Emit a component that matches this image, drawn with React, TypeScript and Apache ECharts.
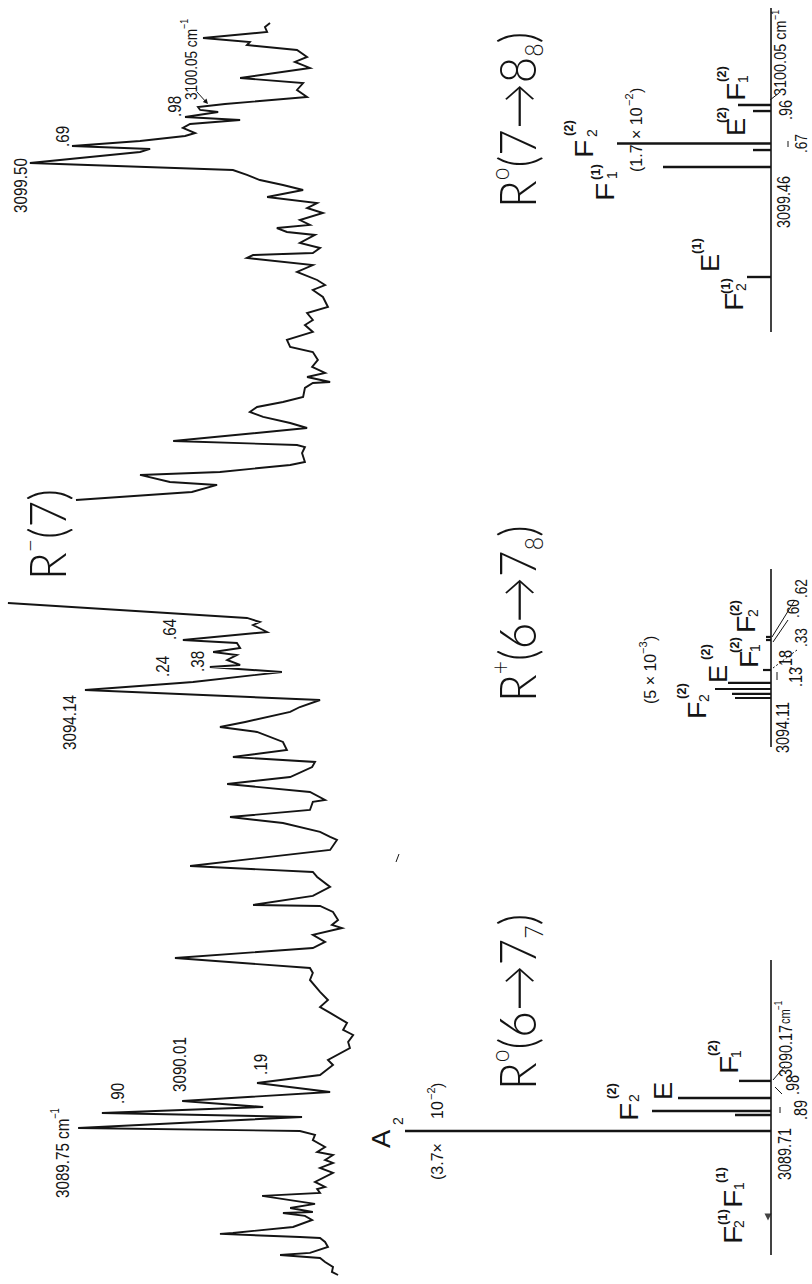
import React, { useEffect, useRef } from "react";
import * as echarts from "echarts";

// ---------- DATA ----------
// Recorded spectrum, wavenumber (cm-1) and absorbance (arbitrary units)
const traceLowWn = [
  3088.265, 3088.296, 3088.346, 3088.397, 3088.437, 3088.467, 3088.488, 3088.548, 3088.599, 3088.639,
  3088.649, 3088.68, 3088.69, 3088.75, 3088.821, 3088.862, 3088.892, 3088.902, 3088.942, 3088.983,
  3089.064, 3089.094, 3089.134, 3089.155, 3089.205, 3089.296, 3089.347, 3089.397, 3089.427, 3089.478,
  3089.508, 3089.559, 3089.629, 3089.68, 3089.72, 3089.751, 3089.862, 3089.902, 3089.963, 3090.023,
  3090.114, 3090.205, 3090.286, 3090.387, 3090.438, 3090.559, 3090.62, 3090.69, 3090.741, 3090.812,
  3090.913, 3090.973, 3091.044, 3091.125, 3091.246, 3091.317, 3091.367, 3091.468, 3091.569, 3091.63,
  3091.701, 3091.771, 3091.802, 3091.852, 3091.933, 3091.994, 3092.004, 3092.095, 3092.186, 3092.287,
  3092.337, 3092.398, 3092.56, 3092.661, 3092.691, 3092.742, 3092.832, 3092.893, 3092.964, 3093.045,
  3093.065, 3093.146, 3093.226, 3093.297, 3093.398, 3093.449, 3093.499, 3093.57, 3093.651, 3093.752,
  3093.802, 3093.853, 3093.954, 3094.004, 3094.075, 3094.176, 3094.247, 3094.257, 3094.358, 3094.409,
  3094.429, 3094.479, 3094.53, 3094.56, 3094.6, 3094.651, 3094.681, 3094.762, 3094.833, 3094.863,
  3094.904, 3095.055,
];
const traceLowAbs = [
  0.61, 0.78, 0.75, 0.97, 1.11, 2.22, 1.39, 0.89, 0.97, 1.11,
  1.67, 3.89, 3.53, 1.86, 1.33, 1.53, 2.14, 1.31, 1.94, 1.25,
  2.72, 1.11, 1.19, 0.97, 1.25, 0.75, 1.11, 0.75, 0.97, 0.75,
  1.19, 0.97, 1.31, 1.25, 1.67, 7.83, 1.61, 7.17, 2.69, 4.94,
  0.83, 2.86, 1.11, 0.75, 0.89, 0.28, 0.33, 0.19, 0.47, 0.36,
  0.83, 1.11, 0.89, 1.11, 1.39, 1.31, 1.39, 5.14, 1.31, 0.97,
  1.31, 0.5, 0.78, 0.61, 0.75, 1.11, 2.97, 1.31, 0.83, 1.19,
  1.31, 4.72, 0.83, 0.64, 0.83, 1.11, 2.14, 3.61, 1.39, 1.31,
  0.97, 1.39, 3.69, 1.94, 1.33, 1.25, 3.53, 2.03, 2.14, 2.86,
  3.89, 3.19, 1.94, 1.67, 1.11, 7.64, 5.0, 4.64, 2.17, 4.17,
  3.33, 3.69, 3.42, 4.08, 3.33, 3.42, 4.92, 2.58, 2.97, 2.78,
  3.14, 9.78,
];
const traceHighWn = [
  3096.096, 3096.177, 3096.248, 3096.278, 3096.349, 3096.379, 3096.45, 3096.48, 3096.571, 3096.631,
  3096.652, 3096.692, 3096.823, 3096.874, 3096.935, 3096.985, 3097.036, 3097.086, 3097.137, 3097.228,
  3097.278, 3097.288, 3097.339, 3097.379, 3097.44, 3097.511, 3097.591, 3097.642, 3097.713, 3097.794,
  3097.864, 3097.915, 3097.985, 3098.046, 3098.147, 3098.218, 3098.268, 3098.319, 3098.4, 3098.47,
  3098.541, 3098.571, 3098.592, 3098.642, 3098.693, 3098.774, 3098.804, 3098.844, 3098.875, 3098.925,
  3098.996, 3099.046, 3099.097, 3099.158, 3099.228, 3099.279, 3099.329, 3099.38, 3099.43, 3099.501,
  3099.612, 3099.643, 3099.673, 3099.723, 3099.774, 3099.804, 3099.855, 3099.895, 3099.936, 3099.966,
  3100.016, 3100.037, 3100.067, 3100.097, 3100.168, 3100.239, 3100.309, 3100.36, 3100.461, 3100.522,
  3100.572, 3100.643, 3100.693, 3100.724, 3100.764, 3100.825, 3100.875, 3100.916,
];
const traceHighAbs = [
  7.89, 4.67, 3.97, 5.28, 6.11, 3.89, 1.94, 1.53, 1.61, 1.53,
  1.75, 5.19, 1.47, 1.94, 2.69, 3.06, 2.86, 2.14, 1.58, 1.53,
  1.31, 0.83, 1.47, 0.97, 1.33, 1.17, 1.31, 1.94, 2.03, 1.31,
  1.53, 1.31, 1.47, 0.89, 1.03, 1.31, 0.97, 1.19, 1.75, 1.31,
  3.14, 2.97, 1.31, 1.11, 1.67, 1.25, 2.03, 2.31, 1.39, 1.67,
  1.03, 1.47, 1.19, 2.58, 1.58, 2.14, 2.78, 3.14, 3.53, 9.17,
  6.11, 5.83, 8.0, 6.11, 4.86, 4.58, 4.92, 4.72, 3.33, 4.86,
  3.94, 4.44, 4.5, 3.75, 1.47, 1.75, 1.58, 3.33, 1.39, 1.81,
  1.47, 1.75, 3.14, 3.06, 4.36, 2.58, 2.64, 2.5,
];

// Calculated stick spectra (relative intensity, units of 1e-2)
const r0_67Wn = [3089.72, 3089.882, 3089.922, 3090.054, 3090.226];
const r0_67Int = [3.66, 0.36, 1.19, 0.93, 0.32];
const rp_67Wn = [3094.095, 3094.136, 3094.186, 3094.247, 3094.378, 3094.681, 3094.712];
const rp_67Int = [0.36, 0.39, 0.56, 0.43, 0.08, 0.05, 0.05];
const r0_78Wn = [3098.349, 3099.461, 3099.632, 3099.698, 3100.026, 3100.087];
const r0_78Int = [0.24, 1.08, 0.18, 1.54, 0.18, 0.33];

// Extent of each stick diagram's zero line (cm-1)
const baseR0_67 = [3088.467, 3091.448];
const baseRp_67 = [3093.6, 3095.399];
const baseR0_78 = [3097.793, 3101.067];
const markerWn = [3088.851];

// Axis ranges
const WN_MIN = 3088.174;
const WN_MAX = 3101.148;

// ---------- TEXT ----------
const NUMF = "'Liberation Sans', Arial, sans-serif";
const BIGF = "Lato, 'Open Sans', sans-serif";
const INK = "#141414";

// [x, y, text, fontSize, scaleX, bold]
const labels: [number, number, string, number, number, boolean][] = [
  // spectrum peak labels
  [62, 1198, "3089.75 cm", 19, 0.8, false],
  [55, 1119, "\u22121", 12, 0.8, false],
  [117, 1104, ".90", 19, 0.8, false],
  [179, 1092, "3090.01", 19, 0.8, false],
  [260, 1075, ".19", 19, 0.8, false],
  [69, 750, "3094.14", 19, 0.8, false],
  [162, 677, ".24", 19, 0.8, false],
  [197, 672, ".38", 19, 0.8, false],
  [169, 640, ".64", 19, 0.8, false],
  [20, 213, "3099.50", 19, 0.8, false],
  [62, 147, ".69", 19, 0.8, false],
  [174, 117, ".98", 19, 0.8, false],
  [191, 100, "3100.05 cm", 17, 0.8, false],
  [184, 29, "\u22121", 11, 0.8, false],
  // R0(6->7_7) stick labels
  [784, 1180, "3089.71", 18, 0.8, false],
  [800, 1120, ".89", 18, 0.8, false],
  [792, 1095, ".98", 18, 0.8, false],
  [785, 1077, "3090.17", 18, 0.8, false],
  [786, 1024, "cm", 14, 0.8, false],
  [779, 1010, "\u22121", 10, 0.8, false],
  [381, 1148, "A", 26, 1.05, false],
  [398, 1125, "2", 14, 1, false],
  [437, 1180, "(3.7\u00d7", 16, 1, false],
  [437, 1119, "10", 16, 1, false],
  [431, 1100, "\u22122", 11, 1, false],
  [437, 1088, ")", 16, 1, false],
  [629, 1121, "F", 26, 1.15, false],
  [634, 1102, "2", 14, 1, false],
  [611, 1099, "(2)", 13, 1, true],
  [663, 1100, "E", 26, 1.05, false],
  [729, 1074, "F", 26, 1.15, false],
  [736, 1058, "1", 14, 1, false],
  [712, 1056, "(2)", 13, 1, true],
  [733, 1244, "F", 26, 1.15, false],
  [739, 1228, "2", 14, 1, false],
  [722, 1225, "(1)", 13, 1, true],
  [733, 1208, "F", 26, 1.15, false],
  [739, 1190, "1", 14, 1, false],
  [720, 1183, "(1)", 13, 1, true],
  // R+(6->7_8) stick labels
  [782, 753, "3094.11", 18, 0.8, false],
  [795, 687, ".13", 18, 0.8, false],
  [785, 670, ".18", 18, 0.8, false],
  [801, 647, ".33", 17, 0.8, false],
  [793, 618, ".60", 17, 0.8, false],
  [801, 598, ".62", 17, 0.8, false],
  [650, 704, "(5 \u00d7 10", 16, 1, false],
  [643, 654, "\u22123", 11, 1, false],
  [650, 641, ")", 16, 1, false],
  [697, 719, "F", 26, 1.1, false],
  [704, 702, "2", 14, 1, false],
  [681, 699, "(2)", 13, 1, true],
  [718, 683, "E", 26, 1.05, false],
  [705, 660, "(2)", 13, 1, true],
  [749, 668, "F", 26, 1.1, false],
  [755, 652, "1", 14, 1, false],
  [734, 653, "(2)", 13, 1, true],
  [746, 633, "F", 26, 1.1, false],
  [753, 617, "2", 14, 1, false],
  [734, 616, "(2)", 13, 1, true],
  // R0(7->8_8) stick labels
  [783, 228, "3099.46", 18, 0.8, false],
  [801, 153, ".67", 17, 0.8, false],
  [785, 120, ".96", 18, 0.8, false],
  [780, 96, "3100.05 cm", 17, 0.85, false],
  [775, 20, "\u22121", 11, 0.8, false],
  [605, 201, "F", 26, 1.15, false],
  [612, 179, "1", 14, 1, false],
  [595, 180, "(1)", 13, 1, true],
  [584, 158, "F", 26, 1.15, false],
  [592, 137, "2", 14, 1, false],
  [568, 136, "(2)", 13, 1, true],
  [636, 172, "(1.7", 16, 1, false],
  [636, 139, "\u00d7 10", 16, 1, false],
  [629, 106, "\u22122", 11, 1, false],
  [636, 93, ")", 16, 1, false],
  [736, 136, "E", 26, 1.05, false],
  [721, 123, "(2)", 13, 1, true],
  [736, 101, "F", 26, 1.15, false],
  [743, 83, "1", 14, 1, false],
  [721, 82, "(2)", 13, 1, true],
  [734, 311, "F", 26, 1.15, false],
  [741, 291, "2", 14, 1, false],
  [725, 294, "(1)", 13, 1, true],
  [710, 272, "E", 26, 1.05, false],
  [696, 254, "(1)", 13, 1, true],
];

// [x, y, rich text]
const bigLabels: [number, number, string][] = [
  [46, 580, "{a|R}{p|\u2212}{a|(7)}"],
  [516, 702, "{a|R}{p|+}{a|(6\u21927}{b|8}{a|)}"],
  [516, 1090, "{a|R}{p|o}{a|(6\u21927}{b|7}{a|)}"],
  [516, 208, "{a|R}{p|o}{a|(7\u21928}{b|8}{a|)}"],
];

// leader lines [x1, y1, x2, y2, dashed]
const leaders: number[][] = [
  [780, 1107, 780, 1113, 0],
  [775, 1087, 782, 1094, 0],
  [773, 1080, 785, 1066, 0],
  [777, 672, 777, 680, 0],
  [773, 668, 797, 650, 1],
  [773, 642, 788, 620, 0],
  [772, 637, 795, 600, 0],
  [788, 141, 788, 147, 0],
  [770, 100, 779, 93, 0],
  [399, 854, 396, 862, 0],
  [197, 92, 207, 103, 0],
];

function rotText(x: number, y: number, text: string, size: number, sx: number, bold: boolean) {
  return {
    type: "text",
    x,
    y,
    rotation: Math.PI / 2,
    scaleX: sx,
    silent: true,
    style: {
      text,
      fontSize: size,
      fontFamily: NUMF,
      fontWeight: bold ? "bold" : "normal",
      fill: INK,
      align: "left",
      verticalAlign: "middle",
    },
  };
}

function bigText(x: number, y: number, text: string) {
  const base = { fontFamily: BIGF, fontWeight: 300, fill: INK };
  return {
    type: "text",
    x,
    y,
    rotation: Math.PI / 2,
    scaleX: 0.88,
    silent: true,
    style: {
      text,
      fontFamily: BIGF,
      fontSize: 52,
      fill: INK,
      align: "left",
      verticalAlign: "middle",
      rich: {
        a: { ...base, fontSize: 52, lineHeight: 60 },
        p: { ...base, fontSize: 26, lineHeight: 26, verticalAlign: "top" },
        b: { ...base, fontSize: 26, lineHeight: 26, verticalAlign: "bottom" },
      },
    },
  };
}

function pairs(wn: number[], vals: number[]) {
  return wn.map((w, i) => [vals[i], w]);
}

function stickSeries(wn: number[], inten: number[], width: number) {
  return {
    type: "custom",
    xAxisIndex: 1,
    yAxisIndex: 1,
    coordinateSystem: "cartesian2d",
    silent: true,
    clip: false,
    data: wn.map((w, i) => [w, inten[i]]),
    encode: { x: 1, y: 0 },
    renderItem: (_p: any, api: any) => {
      const w = api.value(0);
      const I = api.value(1);
      const a = api.coord([0, w]);
      const b = api.coord([I, w]);
      return {
        type: "line",
        shape: { x1: a[0], y1: a[1], x2: b[0], y2: b[1] },
        style: { stroke: INK, lineWidth: width },
      };
    },
  };
}

function baseLine(range: number[]) {
  return {
    type: "line",
    xAxisIndex: 1,
    yAxisIndex: 1,
    silent: true,
    showSymbol: false,
    data: [
      [0, range[0]],
      [0, range[1]],
    ],
    lineStyle: { color: INK, width: 1.6 },
  };
}

export default function App() {
  const ref = useRef<HTMLDivElement>(null);
  useEffect(() => {
    if (!ref.current) return;
    const chart = echarts.init(ref.current, null, { renderer: "svg" });
    const graphic: any[] = [];
    labels.forEach(([x, y, t, s, sx, b]) => graphic.push(rotText(x, y, t, s, sx, b)));
    bigLabels.forEach(([x, y, t]) => graphic.push(bigText(x, y, t)));
    leaders.forEach(([x1, y1, x2, y2, d]) =>
      graphic.push({
        type: "line",
        silent: true,
        shape: { x1, y1, x2, y2 },
        style: { stroke: INK, lineWidth: 1, lineDash: d ? [2, 2] : null },
      })
    );
    graphic.push({
      type: "polygon",
      silent: true,
      shape: { points: [[208, 104], [202.8, 102], [206.5, 98.6]] },
      style: { fill: INK },
    });

    const option: any = {
      animation: false,
      backgroundColor: "#ffffff",
      grid: [
        { left: 0, top: 0, width: 360, height: 1284 },
        { left: 371, top: 0, width: 400, height: 1284 },
      ],
      xAxis: [
        { type: "value", gridIndex: 0, min: 0, max: 10, inverse: true, show: false },
        { type: "value", gridIndex: 1, min: 0, max: 4, inverse: true, show: false },
      ],
      yAxis: [
        { type: "value", gridIndex: 0, min: WN_MIN, max: WN_MAX, show: false },
        { type: "value", gridIndex: 1, min: WN_MIN, max: WN_MAX, show: false },
      ],
      series: [
        {
          type: "line",
          xAxisIndex: 0,
          yAxisIndex: 0,
          silent: true,
          showSymbol: false,
          data: pairs(traceLowWn, traceLowAbs),
          lineStyle: { color: INK, width: 1.9, join: "miter" },
        },
        {
          type: "line",
          xAxisIndex: 0,
          yAxisIndex: 0,
          silent: true,
          showSymbol: false,
          data: pairs(traceHighWn, traceHighAbs),
          lineStyle: { color: INK, width: 1.9, join: "miter" },
        },
        baseLine(baseR0_67),
        baseLine(baseRp_67),
        baseLine(baseR0_78),
        stickSeries(r0_67Wn, r0_67Int, 2.4),
        stickSeries(rp_67Wn, rp_67Int, 2.2),
        stickSeries(r0_78Wn, r0_78Int, 2.4),
        {
          type: "scatter",
          xAxisIndex: 1,
          yAxisIndex: 1,
          silent: true,
          symbol: "triangle",
          symbolSize: 7,
          symbolRotate: 180,
          symbolOffset: [-3, 0],
          itemStyle: { color: INK },
          data: markerWn.map((w) => [0, w]),
        },
      ],
      graphic,
    };
    chart.setOption(option);
    return () => chart.dispose();
  }, []);
  return (
    <div
      ref={ref}
      style={{ position: "absolute", left: 0, top: 0, width: 812, height: 1284, background: "#fff" }}
    />
  );
}
